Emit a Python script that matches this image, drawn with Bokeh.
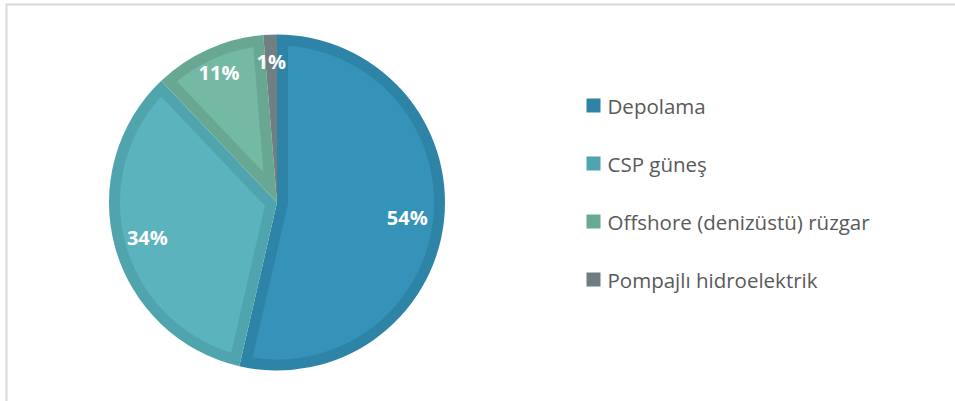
import math
from bokeh.plotting import figure
from bokeh.models import Range1d, ColumnDataSource
from bokeh.embed import file_html
from bokeh.resources import INLINE
from bokeh.core.properties import value

# ---- data ----
categories = ["Depolama", "CSP güneş", "Offshore (denizüstü) rüzgar", "Pompajlı hidroelektrik"]
shares = [53.6, 34.3, 10.8, 1.3]
labels = ["54%", "34%", "11%", "1%"]
fill_colors = ["#3592B8", "#5AB3BD", "#74B9A3", "#6F7F83"]
border_colors = ["#2E84A7", "#4FA4AE", "#68A892", "#6F7F83"]
legend_colors = ["#2E83A6", "#4FA5AF", "#68AA93", "#6E7D82"]

# ---- layout ----
W, H = 955, 401
p = figure(width=W, height=H, x_range=Range1d(0, W), y_range=Range1d(0, H),
           output_backend="svg", toolbar_location=None, min_border=0)
p.axis.visible = False
p.grid.visible = False
p.outline_line_color = None
p.background_fill_color = "white"
p.border_fill_color = "white"

# chart frame (top and left edges)
p.segment(x0=[5, 6], y0=[H - 4, 0], x1=[W, 6], y1=[H - 4, H - 4],
          line_color="#D9D9D9", line_width=2)

cx, cy = 276.5, H - 202.0
R = 168.0
d = 11.0
total = float(sum(shares))

starts, ends, mids = [], [], []
cum = 0.0
for s in shares:
    a0 = math.pi / 2 - 2 * math.pi * cum / total
    cum += s
    a1 = math.pi / 2 - 2 * math.pi * cum / total
    starts.append(a0)
    ends.append(a1)
    mids.append((a0 + a1) / 2)

src = ColumnDataSource(dict(start=starts, end=ends, color=border_colors))
p.wedge(x=cx, y=cy, radius=R, start_angle="start", end_angle="end",
        direction="clock", fill_color="color", line_color=None, source=src)

# inner (inset) fill of each slice
xs, ys, cols = [], [], []
rho = R - d
for a0, a1, col in zip(starts, ends, fill_colors):
    th = a0 - a1
    dq = math.asin(d / rho)
    f0, f1 = a0 - dq, a1 + dq
    am = (a0 + a1) / 2
    sd = d / math.sin(th / 2)
    if f0 <= f1 or sd >= rho * 0.98:
        continue
    n = max(6, int(th * 80))
    px = [cx + sd * math.cos(am)]
    py = [cy + sd * math.sin(am)]
    for k in range(n + 1):
        phi = f0 + (f1 - f0) * k / n
        px.append(cx + rho * math.cos(phi))
        py.append(cy + rho * math.sin(phi))
    xs.append(px)
    ys.append(py)
    cols.append(col)
p.patches(xs=xs, ys=ys, fill_color=cols, line_color=None)

# data labels
label_r = [0.78, 0.80, 0.845, 0.84]
lx = [cx + f * R * math.cos(m) for f, m in zip(label_r, mids)]
ly = [cy + f * R * math.sin(m) for f, m in zip(label_r, mids)]
p.text(x=lx, y=ly, text=labels, text_align="center", text_baseline="middle",
       text_font=value("Open Sans"), text_font_style="bold",
       text_font_size="20px", text_color="white")

# legend
row0, step = H - 105.0, 58.0
rows = [row0 - i * step for i in range(len(categories))]
p.rect(x=593, y=rows, width=14, height=14, fill_color=legend_colors, line_color=None)
p.text(x=607, y=rows, text=categories, text_align="left",
       text_baseline="middle", text_font=value("Open Sans"),
       text_font_size="20.5px", text_color="#595959")

open("out.html", "w").write(file_html(p, INLINE))
